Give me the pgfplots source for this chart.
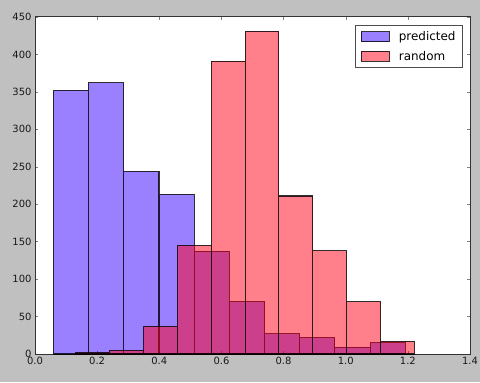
\documentclass[border=0pt]{standalone}
\usepackage{pgfplots}
\pgfplotsset{compat=1.18}
\usepackage{fontspec}
\setmainfont{DejaVu Sans}
\definecolor{bgc}{RGB}{192,192,192}
\definecolor{bluec}{RGB}{55,0,255}
\definecolor{redc}{RGB}{255,0,25}
\pgfplotsset{mylegend/.style={legend image code/.code={\draw[##1] (0bp,-5bp) rectangle (28bp,5bp);}}}
\begin{document}
\begin{tikzpicture}[x=1bp,y=1bp]
\fill[bgc] (0,0) rectangle (480,382);
\begin{axis}[
  at={(35bp,28bp)}, anchor=south west,
  scale only axis, width=435bp, height=337bp,
  xmin=0, xmax=1.4, ymin=0, ymax=450,
  axis background/.style={fill=white},
  xtick={0,0.2,0.4,0.6,0.8,1.0,1.2,1.4},
  ytick={0,50,100,150,200,250,300,350,400,450},
  xticklabel style={/pgf/number format/.cd, fixed, fixed zerofill, precision=1},
  tick align=inside, major tick length=3bp,
  every tick/.style={black!50},
  axis line style={black!80, line width=1bp},
  tick label style={font=\fontsize{10}{12}\selectfont, text=black!90},
  /pgf/number format/assume math mode=true,
  legend style={at={(0.984,0.976)}, anchor=north east, draw=black!70, line width=1bp, fill=white,
    font=\fontsize{12}{14}\selectfont, row sep=5bp, inner xsep=5bp, inner ysep=4bp,
    /tikz/every odd column/.style={column sep=7bp}},
  legend cell align=left,
]
\addplot[ybar interval, fill=bluec, fill opacity=0.5, draw=black, draw opacity=0.8, line width=1.1bp, mylegend]
  coordinates {(0.059,352) (0.172,362) (0.285,244) (0.399,213) (0.512,137) (0.625,70) (0.739,27) (0.852,22) (0.965,9) (1.079,15) (1.192,15)};
\addlegendentry{predicted}
\addplot[ybar interval, fill=redc, fill opacity=0.5, draw=black, draw opacity=0.8, line width=1.1bp, mylegend]
  coordinates {(0.132,2) (0.241,5) (0.350,37) (0.459,145) (0.568,391) (0.676,431) (0.785,211) (0.894,138) (1.003,70) (1.112,17) (1.221,17)};
\addlegendentry{random}
\end{axis}
\pgfresetboundingbox
\useasboundingbox (0,0) rectangle (480,382);
\end{tikzpicture}
\end{document}
